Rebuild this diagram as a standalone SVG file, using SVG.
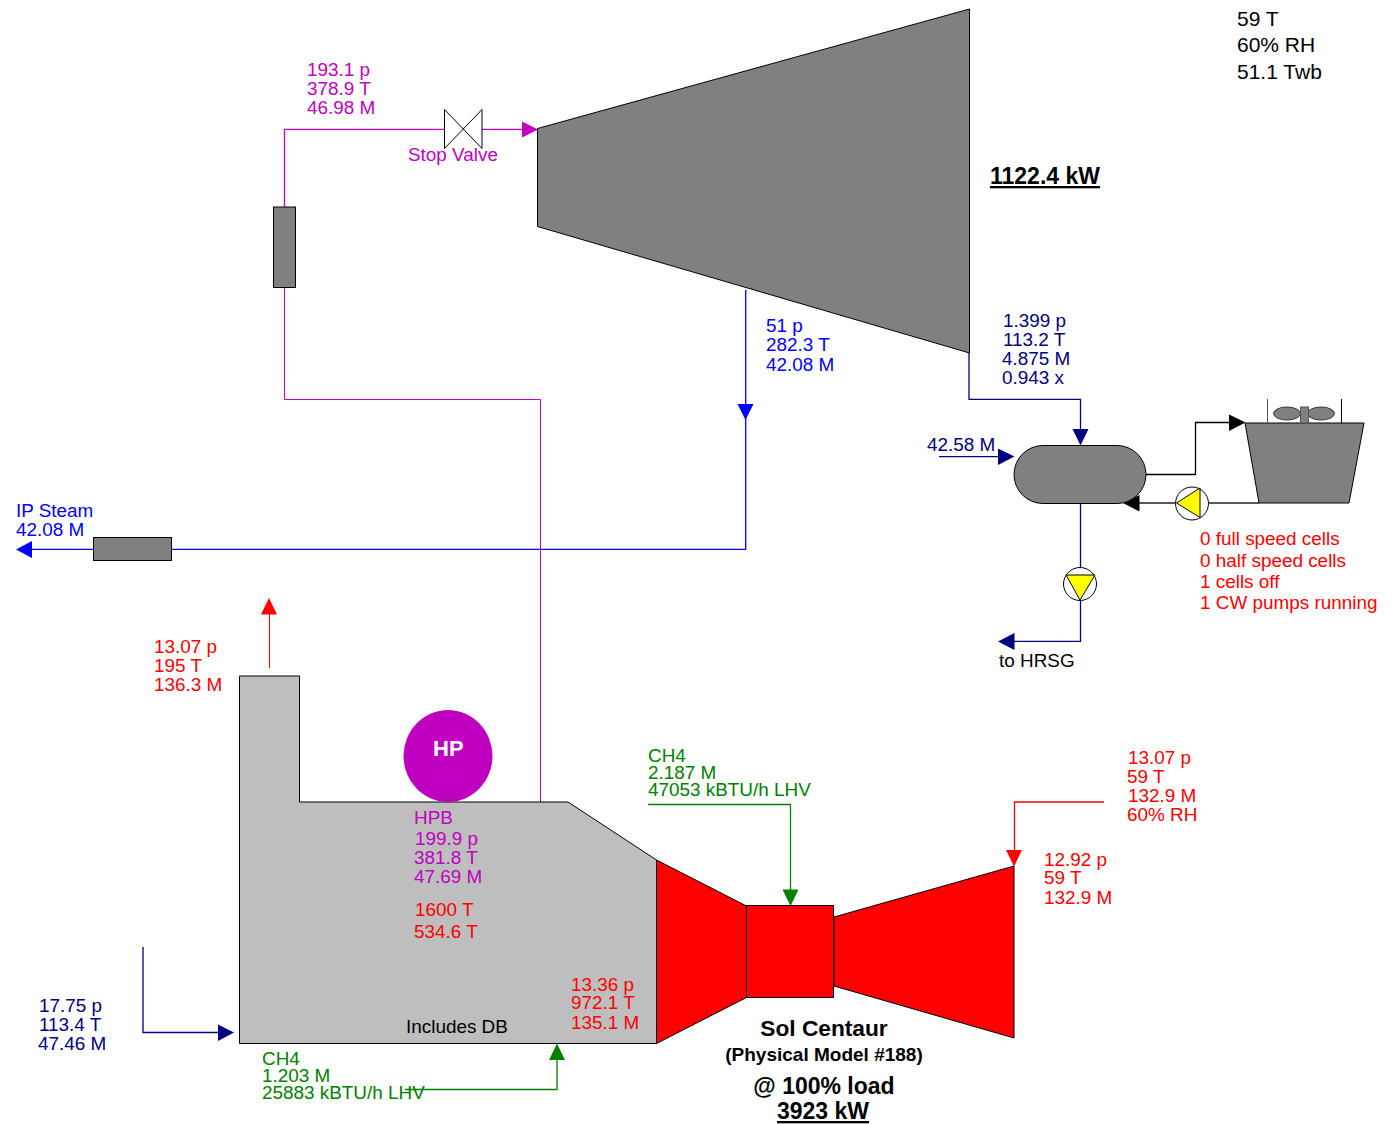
<svg xmlns="http://www.w3.org/2000/svg" width="1395" height="1124" viewBox="0 0 1395 1124">
<style>
text{font-family:"Liberation Sans",Arial,sans-serif;font-size:18.9px}
.m{fill:#c000c0}.r{fill:#f00}.g{fill:#008000}.n{fill:#000080}.b{fill:#00f}.k{fill:#000}
.c{fill:none;stroke-width:1.3}
.s{fill:#808080;stroke:#000;stroke-width:1}
.hb{font-weight:bold;font-size:23px}
.amb{font-size:21px}
</style>
<rect width="1395" height="1124" fill="#fff"/>
<g id="connectors">
<path class="c" stroke="#0000ff" d="M745.700 290V549.300H171M93 549.300H32"/>
<path class="c" stroke="#c000c0" d="M284.500 207V129.300H444M482 129.300H522"/>
<path class="c" stroke="#c000c0" style="stroke-width:1" d="M284.500 288V399.500H540.500V802"/>
<path class="c" stroke="#000080" d="M969 353V399.300H1080.500V430"/>
<path class="c" stroke="#000080" d="M939 456.700H998"/>
<path class="c" stroke="#000080" d="M1080.500 503V567M1080.500 600V641.300H1014"/>
<path class="c" stroke="#000" d="M1146 474.500H1195.500V422.500H1230"/>
<path class="c" stroke="#222" d="M1259 503H1208M1176 503H1138"/>
<path class="c" stroke="#f00" style="stroke-width:1" d="M269.500 668V614"/>
<path class="c" stroke="#f00" d="M1104 802H1014.500V851"/>
<path class="c" stroke="#008000" d="M648 804.500H790.500V891"/>
<path class="c" stroke="#008000" d="M405 1089.500H557V1059"/>
<path class="c" stroke="#000080" d="M143 947V1032.500H218"/>
<polygon class="m" points="538,129.500 522,121.500 522,137.500"/>
<polygon fill="#00f" points="745.500,420 737.500,404 753.500,404"/>
<polygon fill="#00f" points="16,549.500 32,541 32,558"/>
<polygon fill="#000080" points="1080.500,445.500 1072.500,429 1088.500,429"/>
<polygon fill="#000080" points="1014.500,456.500 998,448.500 998,465"/>
<polygon fill="#000080" points="998,641.500 1014.500,633 1014.500,650"/>
<polygon fill="#000" points="1245.500,422.500 1229,414.500 1229,431"/>
<polygon fill="#000" points="1123,503 1139.500,495 1139.500,511.500"/>
<polygon fill="#f00" points="269,598 261,614.500 277,614.500"/>
<polygon fill="#f00" points="1014,866.500 1006,850 1022,850"/>
<polygon fill="#008000" points="790.500,906 782.500,889.500 798.500,889.500"/>
<polygon fill="#008000" points="557,1043.500 549,1060 565,1060"/>
<polygon fill="#000080" points="234,1032.500 218,1024.500 218,1041"/>
</g>
<g id="steam-turbine"><polygon class="s" points="537.500,128.500 969.500,9 969.500,353 537.500,226.500"/></g>
<g id="stop-valve"><polygon points="444.500,109.500 482,148.500 482,109.500 444.500,148.500" fill="#fff" stroke="#000"/></g>
<g id="superheater"><rect class="s" x="273.500" y="207" width="22" height="80.500"/></g>
<g id="ip-heater"><rect class="s" x="93.500" y="537.500" width="78" height="23"/></g>
<g id="condenser"><rect class="s" x="1014" y="445.500" width="132" height="58" rx="29" ry="29"/></g>
<g id="cooling-tower">
<polygon class="s" points="1245,423 1364,423 1349,503 1259,503"/>
<path fill="none" stroke="#555" d="M1267.500 399V423"/>
<path fill="none" stroke="#000" d="M1341.500 399V423"/>
<ellipse cx="1287" cy="413.500" rx="13.500" ry="6.500" fill="#808080" stroke="#333"/>
<ellipse cx="1321" cy="413.500" rx="13.500" ry="6.500" fill="#808080" stroke="#333"/>
<rect fill="#808080" stroke="#555" x="1300.500" y="407" width="8" height="16"/>
</g>
<g id="cw-pump">
<circle cx="1192" cy="503.500" r="16.500" fill="#fff" stroke="#000"/>
<polygon points="1176.500,503 1200,488 1200,517.500" fill="#ff0" stroke="#000"/>
</g>
<g id="condensate-pump">
<circle cx="1080" cy="584" r="16.500" fill="#fff" stroke="#000"/>
<polygon points="1066,575 1095,575 1080,600" fill="#ff0" stroke="#000"/>
</g>
<g id="hrsg">
<polygon points="239.500,1043.500 239.500,676 299.500,676 299.500,802 568,802 656.500,860 656.500,1043.500" fill="#bebebe" stroke="#000"/>
</g>
<g id="hp-drum"><ellipse cx="448" cy="756" rx="44.500" ry="46" fill="#c000c0"/>
<text x="433" y="756" fill="#fff" font-weight="bold" style="font-size:22px">HP</text></g>
<g id="gas-turbine">
<polygon points="656.500,860 746.500,906 746.500,997.500 656.500,1043.500" fill="#f00" stroke="#000"/>
<rect x="746.500" y="905.500" width="87" height="92" fill="#f00" stroke="#000"/>
<polygon points="834,917 1014,866 1014,1038 834,986" fill="#f00" stroke="#000"/>
</g>
<g id="labels">
<text class="k amb" x="1237" y="26">59 T</text>
<text class="k amb" x="1237" y="52">60% RH</text>
<text class="k amb" x="1237" y="79">51.1 Twb</text>
<text class="m" x="307" y="76">193.1 p</text>
<text class="m" x="307" y="95">378.9 T</text>
<text class="m" x="307" y="114">46.98 M</text>
<text class="m" x="408" y="161">Stop Valve</text>
<text class="k hb" x="990" y="184" text-decoration="underline">1122.4 kW</text>
<text fill="#0000ff" x="766" y="332">51 p</text>
<text fill="#0000ff" x="766" y="351">282.3 T</text>
<text fill="#0000ff" x="766" y="371">42.08 M</text>
<text class="n" x="1003" y="327">1.399 p</text>
<text class="n" x="1003" y="346">113.2 T</text>
<text class="n" x="1002" y="365">4.875 M</text>
<text class="n" x="1002" y="384">0.943 x</text>
<text class="n" x="927" y="451">42.58 M</text>
<text class="r" x="1200" y="545">0 full speed cells</text>
<text class="r" x="1200" y="567">0 half speed cells</text>
<text class="r" x="1200" y="588">1 cells off</text>
<text class="r" x="1200" y="609">1 CW pumps running</text>
<text class="k" x="999" y="667">to HRSG</text>
<text class="b" x="16" y="517">IP Steam</text>
<text class="b" x="16" y="536">42.08 M</text>
<text class="r" x="154" y="653">13.07 p</text>
<text class="r" x="154" y="672">195 T</text>
<text class="r" x="154" y="691">136.3 M</text>
<text class="m" x="414" y="824">HPB</text>
<text class="m" x="415" y="845">199.9 p</text>
<text class="m" x="414" y="864">381.8 T</text>
<text class="m" x="414" y="883">47.69 M</text>
<text class="r" x="415" y="916">1600 T</text>
<text class="r" x="414" y="938">534.6 T</text>
<text class="k" x="406" y="1033">Includes DB</text>
<text class="r" x="571" y="991">13.36 p</text>
<text class="r" x="571" y="1009">972.1 T</text>
<text class="r" x="571" y="1029">135.1 M</text>
<text class="n" x="39" y="1012">17.75 p</text>
<text class="n" x="39" y="1031">113.4 T</text>
<text class="n" x="38" y="1050">47.46 M</text>
<text class="g" x="262" y="1065">CH4</text>
<text class="g" x="262" y="1082">1.203 M</text>
<text class="g" x="262" y="1099">25883 kBTU/h LHV</text>
<text class="g" x="648" y="762">CH4</text>
<text class="g" x="648" y="779">2.187 M</text>
<text class="g" x="648" y="796">47053 kBTU/h LHV</text>
<text class="r" x="1128" y="764">13.07 p</text>
<text class="r" x="1127" y="783">59 T</text>
<text class="r" x="1128" y="802">132.9 M</text>
<text class="r" x="1127" y="821">60% RH</text>
<text class="r" x="1044" y="866">12.92 p</text>
<text class="r" x="1044" y="884">59 T</text>
<text class="r" x="1044" y="904">132.9 M</text>
<text class="k" x="824" y="1036" text-anchor="middle" font-weight="bold" style="font-size:22.7px">Sol Centaur</text>
<text class="k" x="824" y="1061" text-anchor="middle" font-weight="bold" style="font-size:19px">(Physical Model #188)</text>
<text class="k" x="824" y="1094" text-anchor="middle" font-weight="bold" style="font-size:23px">@ 100% load</text>
<text class="k hb" x="823" y="1119" text-anchor="middle" text-decoration="underline">3923 kW</text>
</g>
</svg>
